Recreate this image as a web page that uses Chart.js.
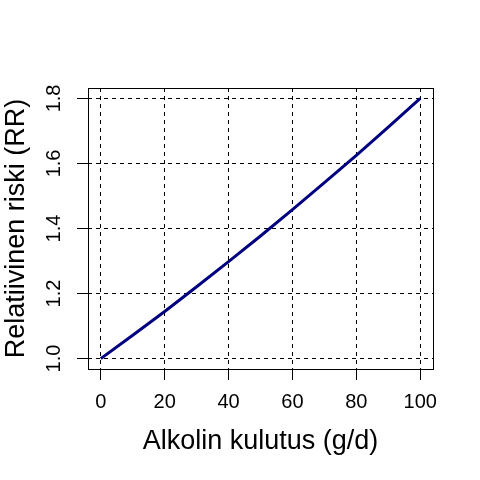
<!DOCTYPE html>
<html>
<head>
<meta charset="utf-8">
<script src="https://cdn.jsdelivr.net/npm/chart.js@4"></script>
<style>
  html, body { margin: 0; padding: 0; background: #fff; }
</style>
</head>
<body>
<canvas id="myChart" width="480" height="480"></canvas>
<script>
const alcohol = [0, 10, 20, 30, 40, 50, 60, 70, 80, 90, 100];
const relRisk = [1.0, 1.072, 1.145, 1.221, 1.298, 1.377, 1.458, 1.541, 1.625, 1.712, 1.8];
const xTicks = [0, 20, 40, 60, 80, 100];
const yTicks = [1.0, 1.2, 1.4, 1.6, 1.8];

const fontFamily = "'Liberation Sans', Arial, sans-serif";

// R-style box around the plot region
const boxPlugin = {
    id: 'box',
    afterDraw(chart) {
        const {ctx, chartArea: a} = chart;
        ctx.save();
        ctx.strokeStyle = '#000';
        ctx.lineWidth = 1;
        ctx.strokeRect(a.left + 0.5, a.top + 0.5, a.right - a.left, a.bottom - a.top);
        ctx.restore();
    }
};

const data = {
    datasets: [{
        label: 'RR',
        data: alcohol.map((x, i) => ({x: x, y: relRisk[i]})),
        borderColor: '#000080',
        borderWidth: 3,
        pointRadius: 0,
        fill: false,
        tension: 0,
    }]
};

const config = {
    type: 'line',
    data: data,
    plugins: [boxPlugin],
    options: {
        responsive: false,
        animation: false,
        devicePixelRatio: 1,
        layout: {padding: {top: 88, right: 47, left: 0, bottom: 0}},
        plugins: {legend: {display: false}, tooltip: {enabled: false}},
        scales: {
            x: {
                type: 'linear',
                min: -4,
                max: 104,
                afterBuildTicks: s => { s.ticks = xTicks.map(v => ({value: v})); },
                afterFit: s => { s.height = 111; },
                grid: {color: '#000', lineWidth: 1, tickLength: 11, tickBorderDash: []},
                border: {display: false, dash: [4, 4]},
                ticks: {
                    color: '#000',
                    padding: 10,
                    maxRotation: 0,
                    font: {family: fontFamily, size: 20},
                },
                title: {
                    display: true,
                    text: 'Alkolin kulutus (g/d)',
                    color: '#000',
                    font: {family: fontFamily, size: 27},
                    padding: {top: 0, bottom: 22},
                },
            },
            y: {
                type: 'linear',
                min: 0.968,
                max: 1.832,
                afterBuildTicks: s => { s.ticks = yTicks.map(v => ({value: v})); },
                afterFit: s => { s.width = 88; },
                grid: {color: '#000', lineWidth: 1, tickLength: 11, tickBorderDash: []},
                border: {display: false, dash: [4, 4]},
                ticks: {
                    color: '#000',
                    padding: 9,
                    minRotation: 90,
                    maxRotation: 90,
                    crossAlign: 'center',
                    font: {family: fontFamily, size: 20},
                    callback: v => v.toFixed(1),
                },
                title: {
                    display: true,
                    text: 'Relatiivinen riski (RR)',
                    color: '#000',
                    font: {family: fontFamily, size: 27},
                    padding: {top: 0, bottom: 0},
                },
            },
        },
    },
};

new Chart(document.getElementById('myChart'), config);
</script>
</body>
</html>
